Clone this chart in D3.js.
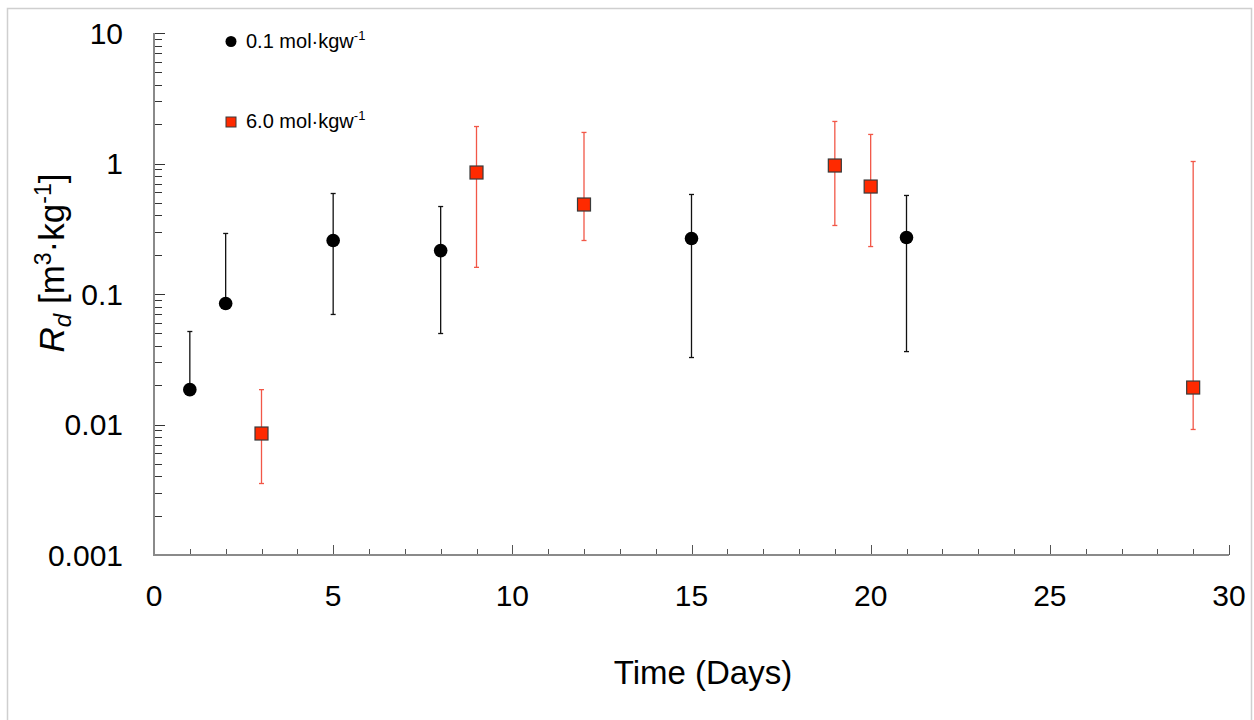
<!DOCTYPE html>
<html>
<head>
<meta charset="utf-8">
<script src="https://cdnjs.cloudflare.com/ajax/libs/d3/7.8.5/d3.min.js"></script>
<style>
  body { margin: 0; background: #fff; }
  svg { display: block; font-family: "Liberation Sans", Arial, Helvetica, sans-serif; }
</style>
</head>
<body>
<svg id="chart" width="1254" height="720"></svg>
<script>
// 0.1 mol/kgw series
var lowDays  = [1, 2, 5, 8, 15, 21];
var lowRd    = [0.0185, 0.0846, 0.257, 0.215, 0.266, 0.271];
var lowUpper = [0.0516, 0.291, 0.589, 0.468, 0.579, 0.569];
var lowLower = [null, null, 0.0697, 0.0498, 0.0326, 0.0362];

// 6.0 mol/kgw series
var highDays  = [3, 9, 12, 19, 20, 29];
var highRd    = [0.00853, 0.853, 0.485, 0.965, 0.666, 0.0192];
var highUpper = [0.0185, 1.92, 1.73, 2.10, 1.67, 1.036];
var highLower = [0.00353, 0.160, 0.257, 0.335, 0.231, 0.00916];

var xTickLabels = [0, 5, 10, 15, 20, 25, 30];
var yTickLabels = [0.001, 0.01, 0.1, 1, 10];

var width = 1254;
var height = 720;

var svg = d3.select("#chart");

// light frame round the figure
svg.append("path")
    .attr("d", "M7.5,720 L7.5,8.5 L1251.5,8.5 L1251.5,720")
    .style("fill", "none").style("stroke", "#cfcfcf").style("stroke-width", "1.5");

var x = d3.scaleLinear().domain([0, 30]).range([154, 1229]);
var y = d3.scaleLog().domain([0.001, 10]).range([555, 33]);

// y minor + major ticks
var yTicks = [];
for (var e = -3; e < 1; e++) {
    for (var m = 1; m <= 9; m++) yTicks.push(m * Math.pow(10, e));
}
yTicks.push(10);

var g = svg.append("g");

g.selectAll("line.ytick")
    .data(yTicks)
    .enter()
    .append("line")
    .attr("class", "ytick")
    .attr("x1", x(0))
    .attr("x2", function(d) {
        var lead = d / Math.pow(10, Math.floor(Math.log10(d) + 1e-9));
        return x(0) + (Math.abs(lead - 1) < 1e-6 ? 11 : 8);
    })
    .attr("y1", function(d) { return Math.round(y(d)) + 0.5; })
    .attr("y2", function(d) { return Math.round(y(d)) + 0.5; })
    .style("stroke", "#333").style("stroke-width", "1");

var xTicks = d3.range(1, 31);
g.selectAll("line.xtick")
    .data(xTicks)
    .enter()
    .append("line")
    .attr("class", "xtick")
    .attr("x1", function(d) { return Math.round(x(d)) + 0.5; })
    .attr("x2", function(d) { return Math.round(x(d)) + 0.5; })
    .attr("y1", y(0.001))
    .attr("y2", function(d) { return y(0.001) - (d % 5 === 0 ? 10 : 6); })
    .style("stroke", "#555").style("stroke-width", "1");

// axis lines
g.append("path")
    .attr("d", "M" + x(0) + "," + y(10) + " L" + x(0) + "," + y(0.001) + " L" + x(30) + "," + y(0.001))
    .style("fill", "none").style("stroke", "#8a8a8a").style("stroke-width", "2");

// tick labels
g.selectAll("text.ylab")
    .data(yTickLabels)
    .enter()
    .append("text")
    .attr("class", "ylab")
    .attr("x", 123)
    .attr("y", function(d) { return y(d); })
    .attr("dy", "0.36em")
    .attr("text-anchor", "end")
    .style("font-size", "30px")
    .text(function(d) { return d3.format("~g")(d); });

g.selectAll("text.xlab")
    .data(xTickLabels)
    .enter()
    .append("text")
    .attr("class", "xlab")
    .attr("x", function(d) { return x(d); })
    .attr("y", 606)
    .attr("text-anchor", "middle")
    .style("font-size", "30px")
    .text(function(d) { return d; });

// axis titles
svg.append("text")
    .attr("x", 703)
    .attr("y", 684)
    .attr("text-anchor", "middle")
    .style("font-size", "33px")
    .text("Time (Days)");

var yt = svg.append("text")
    .attr("transform", "translate(64,263) rotate(-90)")
    .attr("text-anchor", "middle")
    .style("font-size", "35px");
yt.append("tspan").style("font-style", "italic").text("R");
yt.append("tspan").style("font-style", "italic").style("font-size", "24px").attr("dy", 7).text("d");
yt.append("tspan").attr("dy", -7).text(" [m");
yt.append("tspan").style("font-size", "23px").attr("dy", -13).text("3");
yt.append("tspan").attr("dy", 13).text("·kg");
yt.append("tspan").style("font-size", "23px").attr("dy", -13).text("-1");
yt.append("tspan").attr("dy", 13).text("]");

// error bars
function errorBars(days, vals, up, lo, colour, opacity) {
    var data = days.map(function(d, i) { return {day: d, v: vals[i], up: up[i], lo: lo[i]}; });
    var eb = g.append("g").style("stroke", colour).style("stroke-width", "1.3").style("opacity", opacity);
    eb.selectAll("line.bar")
        .data(data)
        .enter()
        .append("line")
        .attr("x1", function(d) { return x(d.day); })
        .attr("x2", function(d) { return x(d.day); })
        .attr("y1", function(d) { return y(d.up); })
        .attr("y2", function(d) { return d.lo === null ? y(d.v) : y(d.lo); });
    var caps = [];
    data.forEach(function(d) {
        caps.push({day: d.day, v: d.up});
        if (d.lo !== null) caps.push({day: d.day, v: d.lo});
    });
    eb.selectAll("line.cap")
        .data(caps)
        .enter()
        .append("line")
        .attr("x1", function(d) { return x(d.day) - 2.5; })
        .attr("x2", function(d) { return x(d.day) + 2.5; })
        .attr("y1", function(d) { return y(d.v); })
        .attr("y2", function(d) { return y(d.v); });
}

errorBars(lowDays, lowRd, lowUpper, lowLower, "#111", 1);
errorBars(highDays, highRd, highUpper, highLower, "#f03a28", 0.85);

// markers
g.selectAll("circle.low")
    .data(lowDays)
    .enter()
    .append("circle")
    .attr("class", "low")
    .attr("cx", function(d) { return x(d); })
    .attr("cy", function(d, i) { return y(lowRd[i]); })
    .attr("r", 6.8)
    .style("fill", "#000");

g.selectAll("rect.high")
    .data(highDays)
    .enter()
    .append("rect")
    .attr("class", "high")
    .attr("x", function(d) { return x(d) - 6.5; })
    .attr("y", function(d, i) { return y(highRd[i]) - 6.5; })
    .attr("width", 13)
    .attr("height", 13)
    .style("fill", "#ff2a00").style("stroke", "#3a3a3a").style("stroke-width", "1.2");

// legend
var leg = svg.append("g");
leg.append("circle").attr("cx", 231).attr("cy", 41.5).attr("r", 5.5).style("fill", "#000");
leg.append("rect").attr("x", 226).attr("y", 117).attr("width", 10).attr("height", 10)
    .style("fill", "#ff2a00").style("stroke", "#3a3a3a").style("stroke-width", "1");

function legendText(yy, label) {
    var t = leg.append("text").attr("x", 246).attr("y", yy).style("font-size", "20px");
    t.append("tspan").text(label + " mol·kgw");
    t.append("tspan").style("font-size", "13px").attr("dy", -8).text("-1");
}
legendText(48, "0.1");
legendText(128, "6.0");
</script>
</body>
</html>
